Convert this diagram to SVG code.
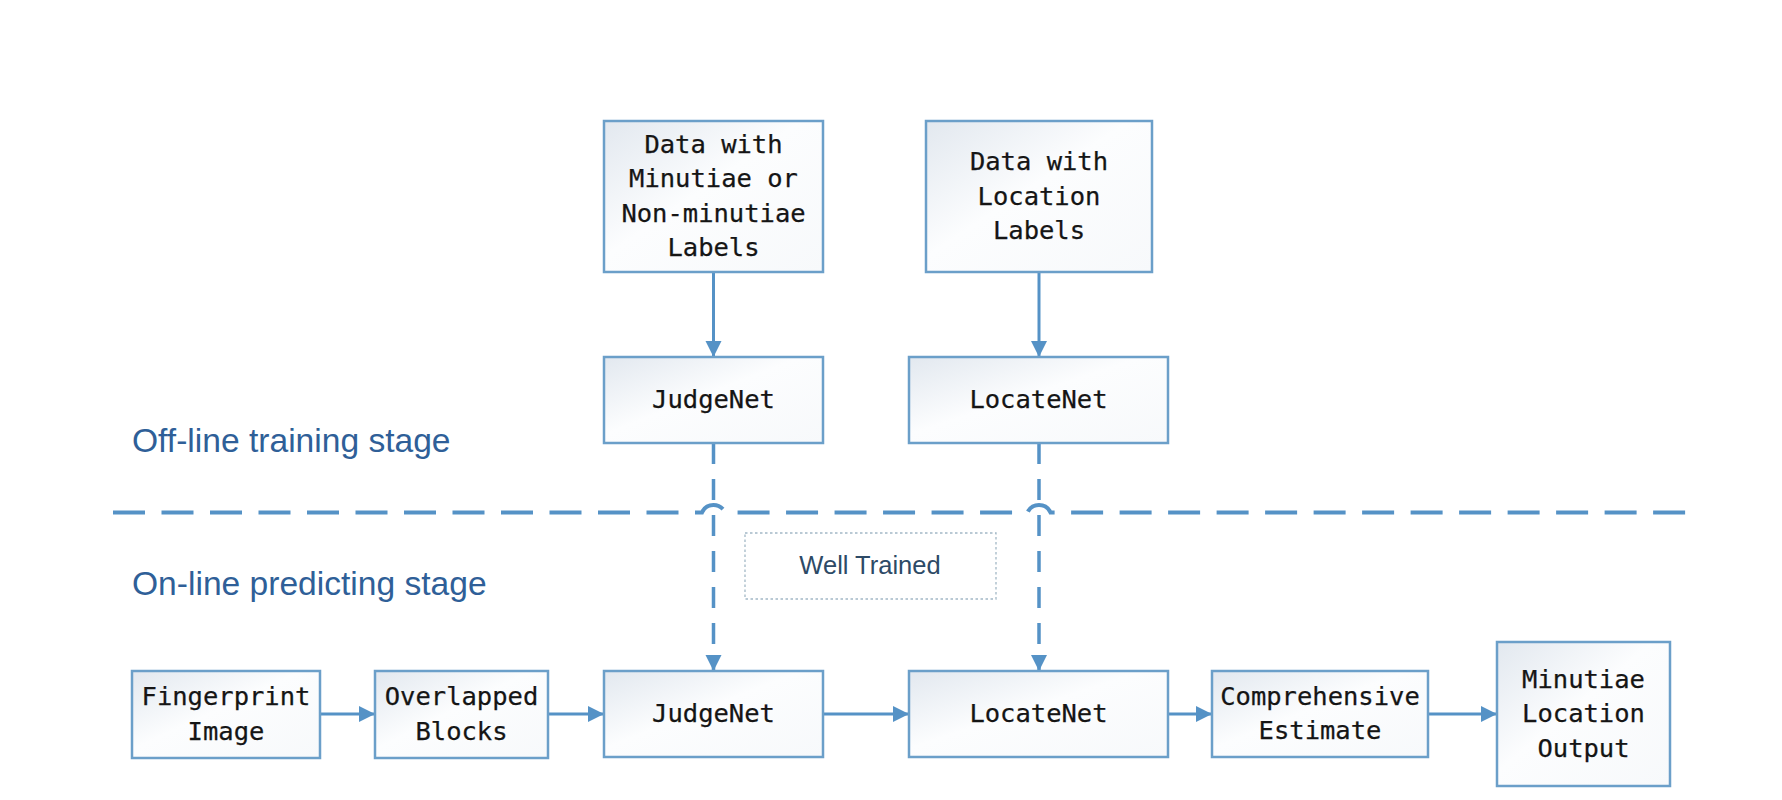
<svg xmlns="http://www.w3.org/2000/svg" width="1782" height="800" viewBox="0 0 1782 800">
<defs>
  <linearGradient id="boxfill" x1="0" y1="0" x2="1" y2="1">
    <stop offset="0" stop-color="#e2e8ef"/>
    <stop offset="0.45" stop-color="#fcfdfe"/>
    <stop offset="1" stop-color="#f7f9fb"/>
  </linearGradient>
  <marker id="arrow" markerUnits="userSpaceOnUse" markerWidth="17" markerHeight="17" viewBox="0 0 17 17" refX="16" refY="8.5" orient="auto">
    <path d="M0,0.5 L16,8.5 L0,16.5 z" fill="#5592c6"/>
  </marker>
</defs>
<style>
  .box { fill: url(#boxfill); stroke: #6b9fc9; stroke-width: 2.5; }
  .mono { font-family: "DejaVu Sans Mono", "Liberation Mono", monospace; font-size: 25.5px; fill: #151515; text-anchor: middle; stroke: #151515; stroke-width: 0.25; }
  .stage { font-family: "Liberation Sans", "Open Sans", sans-serif; font-size: 33.6px; fill: #2f5f98; }
  .conn { fill: none; stroke: #5592c6; stroke-width: 3; }
  .dash { fill: none; stroke: #5592c6; stroke-width: 3.5; stroke-dasharray: 21 15; }
  .divider { fill: none; stroke: #5592c6; stroke-width: 4; stroke-dasharray: 32 16.5; }
</style>
<rect x="0" y="0" width="1782" height="800" fill="#ffffff"/>

<text class="stage" x="132" y="452">Off-line training stage</text>
<text class="stage" x="132" y="595">On-line predicting stage</text>

<g id="connectors">
  <path class="divider" d="M113,512.5 H702 A12.5,12.5 0 0 1 725,512.5 H1027.5 A12.5,12.5 0 0 1 1050.5,512.5 H1688"/>
  <path class="conn" d="M713.5,272 V357" marker-end="url(#arrow)"/>
  <path class="conn" d="M1039,272 V357" marker-end="url(#arrow)"/>
  <path class="dash" d="M713.5,443 V671" marker-end="url(#arrow)"/>
  <path class="dash" d="M1039,443 V671" marker-end="url(#arrow)"/>
  <path class="conn" d="M320,714 H375" marker-end="url(#arrow)"/>
  <path class="conn" d="M548,714 H604" marker-end="url(#arrow)"/>
  <path class="conn" d="M823,714 H909" marker-end="url(#arrow)"/>
  <path class="conn" d="M1168,714 H1212" marker-end="url(#arrow)"/>
  <path class="conn" d="M1428,714 H1497" marker-end="url(#arrow)"/>
</g>

<g id="well-trained">
  <rect x="745" y="533" width="251" height="66" fill="none" stroke="#a3b8c6" stroke-width="1.3" stroke-dasharray="2.5 2.5"/>
  <text x="870" y="574" font-family="Liberation Sans, Open Sans, sans-serif" font-size="25.5px" fill="#2d4a66" text-anchor="middle">Well Trained</text>
</g>

<g id="data-minutiae">
  <rect class="box" x="604" y="121" width="219" height="151"/>
  <text class="mono" x="713.5" y="153">Data with</text>
  <text class="mono" x="713.5" y="187">Minutiae or</text>
  <text class="mono" x="713.5" y="222">Non-minutiae</text>
  <text class="mono" x="713.5" y="256">Labels</text>
</g>

<g id="data-location">
  <rect class="box" x="926" y="121" width="226" height="151"/>
  <text class="mono" x="1039" y="170">Data with</text>
  <text class="mono" x="1039" y="205">Location</text>
  <text class="mono" x="1039" y="239">Labels</text>
</g>

<g id="judgenet-train">
  <rect class="box" x="604" y="357" width="219" height="86"/>
  <text class="mono" x="713.5" y="408">JudgeNet</text>
</g>

<g id="locatenet-train">
  <rect class="box" x="909" y="357" width="259" height="86"/>
  <text class="mono" x="1038.5" y="408">LocateNet</text>
</g>

<g id="fingerprint">
  <rect class="box" x="132" y="671" width="188" height="87"/>
  <text class="mono" x="226" y="705">Fingerprint</text>
  <text class="mono" x="226" y="740">Image</text>
</g>

<g id="overlapped">
  <rect class="box" x="375" y="671" width="173" height="87"/>
  <text class="mono" x="461.5" y="705">Overlapped</text>
  <text class="mono" x="461.5" y="740">Blocks</text>
</g>

<g id="judgenet-predict">
  <rect class="box" x="604" y="671" width="219" height="86"/>
  <text class="mono" x="713.5" y="722">JudgeNet</text>
</g>

<g id="locatenet-predict">
  <rect class="box" x="909" y="671" width="259" height="86"/>
  <text class="mono" x="1038.5" y="722">LocateNet</text>
</g>

<g id="comprehensive">
  <rect class="box" x="1212" y="671" width="216" height="86"/>
  <text class="mono" x="1320" y="705">Comprehensive</text>
  <text class="mono" x="1320" y="739">Estimate</text>
</g>

<g id="output">
  <rect class="box" x="1497" y="642" width="173" height="144"/>
  <text class="mono" x="1583.5" y="688">Minutiae</text>
  <text class="mono" x="1583.5" y="722">Location</text>
  <text class="mono" x="1583.5" y="757">Output</text>
</g>
</svg>
